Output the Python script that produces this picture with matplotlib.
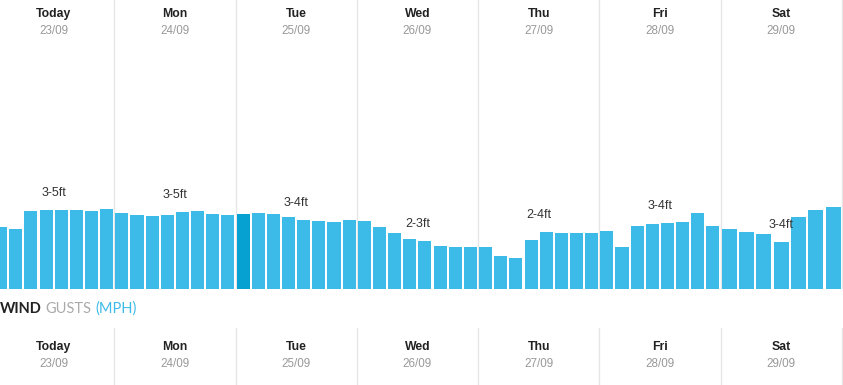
import matplotlib.pyplot as plt

W, H = 843, 385

days = ['Today', 'Mon', 'Tue', 'Wed', 'Thu', 'Fri', 'Sat']
dates = ['23/09', '24/09', '25/09', '26/09', '27/09', '28/09', '29/09']
ranges = ['3-5ft', '3-5ft', '3-4ft', '2-3ft', '2-4ft', '3-4ft', '3-4ft']

# swell height per 3h slot (ft)
today = [3.10, 3.00, 3.90, 3.95, 3.95, 3.95, 3.90, 4.00]
mon = [3.80, 3.70, 3.65, 3.70, 3.85, 3.90, 3.75, 3.72]
tue = [3.75, 3.80, 3.75, 3.60, 3.45, 3.40, 3.35, 3.45]
wed = [3.40, 3.10, 2.80, 2.50, 2.40, 2.15, 2.10, 2.10]
thu = [2.10, 1.65, 1.55, 2.45, 2.85, 2.80, 2.80, 2.80]
fri = [2.90, 2.10, 3.15, 3.25, 3.30, 3.35, 3.80, 3.15]
sat = [3.00, 2.85, 2.75, 2.35, 3.60, 3.95, 4.10]
series = [today, mon, tue, wed, thu, fri, sat]
current = (2, 0)  # highlighted slot: Tue, first bar

light = '#3dbbe8'
dark = '#06a0d1'
sep = '#e6e6e6'

# day column layout in pixels
col_w = 121.25
x0 = -7
xlim = ((0 - x0) / col_w, (W - x0) / col_w)
bar_bottom = 289
px_per_ft = 20

fig = plt.figure(figsize=(W / 100, H / 100), dpi=100)

ax = fig.add_axes([0, (H - bar_bottom) / H, 1, bar_bottom / H])
ax.set_xlim(*xlim)
ax.set_ylim(0, bar_bottom / px_per_ft)
ax.axis('off')

for i, vals in enumerate(series):
    n = len(vals)
    xs = [i + (j + 0.5) / n for j in range(n)]
    cols = [dark if (i, j) == current else light for j in range(n)]
    ax.bar(xs, vals, width=0.86 / n, color=cols, linewidth=0)
    mid = n // 2
    ax.text(i + 0.5, vals[mid] + 0.85, ranges[i], ha='center', va='center',
            fontsize=9, color='#333333', family='Liberation Sans')

for d in range(1, 8):
    ax.axvline(d, color=sep, lw=1, zorder=0)

# bottom header strip
ax2 = fig.add_axes([0, 0, 1, (H - 328) / H])
ax2.set_xlim(*xlim)
ax2.set_ylim(0, 1)
ax2.axis('off')
for d in range(1, 8):
    ax2.axvline(d, color=sep, lw=1)


def fx(px):
    return px / W


def fy(py):
    return 1 - py / H


for i in range(7):
    cx = fx(x0 + (i + 0.5) * col_w)
    for ty, dy in [(14, 31), (347, 364)]:
        fig.text(cx, fy(ty), days[i], ha='center', va='center', fontsize=8.8,
                 fontweight='bold', color='#222222', family='Liberation Sans')
        fig.text(cx, fy(dy), dates[i], ha='center', va='center', fontsize=8.4,
                 color='#999999', family='Liberation Sans')

fig.text(fx(0), fy(309), 'WIND', ha='left', va='center', fontsize=10.5,
         fontweight='bold', color='#222222', family='Lato')
fig.text(fx(45), fy(309), 'GUSTS', ha='left', va='center', fontsize=10.5,
         color='#aaaaaa', family='Lato')
fig.text(fx(95), fy(309), '(MPH)', ha='left', va='center', fontsize=10.5,
         color=light, family='Lato')

fig.savefig('out.png', dpi=100)
